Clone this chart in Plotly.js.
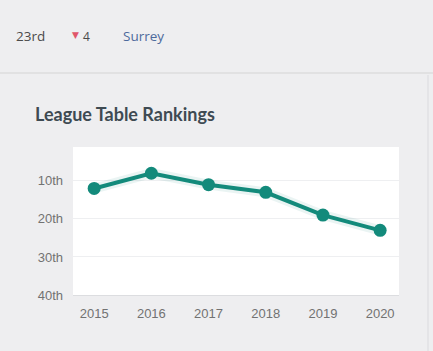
<!DOCTYPE html>
<html>
<head>
<meta charset="utf-8">
<script src="https://cdn.plot.ly/plotly-3.0.1.min.js"></script>
<style>
html,body{margin:0;padding:0;background:#eeeef0;}
#chart{width:433px;height:351px;}
</style>
</head>
<body>
<div id="chart"></div>
<script>
const years = [2015, 2016, 2017, 2018, 2019, 2020];
const ranks = [12, 8, 11, 13, 19, 23];
const rankTickVals = [10, 20, 30, 40];
const rankTickText = ['10th', '20th', '30th', '40th'];
const chartTitle = 'League Table Rankings';
const currentRank = '23rd';
const rankChange = '4';
const county = 'Surrey';

const teal = '#138a7b';

const glow = {
  x: years, y: ranks, type: 'scatter', mode: 'lines',
  line: {color: 'rgba(19,138,123,0.09)', width: 10},
  hoverinfo: 'skip', showlegend: false
};
const main = {
  x: years, y: ranks, type: 'scatter', mode: 'lines+markers',
  line: {color: teal, width: 4},
  marker: {color: teal, size: 13},
  showlegend: false
};

const layout = {
  width: 433, height: 351,
  paper_bgcolor: '#eeeef0',
  plot_bgcolor: '#ffffff',
  margin: {l: 73, r: 34, t: 147, b: 56},
  showlegend: false,
  xaxis: {
    range: [2014.63, 2020.33],
    tickvals: years, ticktext: years.map(String),
    showgrid: false, zeroline: false,
    showline: true, linecolor: '#dcdde0', linewidth: 1,
    ticks: '', ticklabelstandoff: 6,
    tickfont: {family: 'Liberation Sans, Arial, sans-serif', size: 13, color: '#727272'},
    fixedrange: true
  },
  yaxis: {
    range: [40, 1.1],
    tickvals: rankTickVals, ticktext: rankTickText,
    showgrid: true, gridcolor: '#eeeff1', gridwidth: 1,
    zeroline: false, showline: false,
    ticks: '', ticklabelstandoff: 9,
    tickfont: {family: 'Liberation Sans, Arial, sans-serif', size: 13, color: '#727272'},
    fixedrange: true
  },
  shapes: [
    {type: 'line', xref: 'paper', yref: 'paper',
     x0: -73/326, x1: (433-73)/326, y0: (351-56-73)/148, y1: (351-56-73)/148,
     line: {color: '#dcdcde', width: 1.5}},
    {type: 'line', xref: 'paper', yref: 'paper',
     x0: (428-73)/326, x1: (428-73)/326, y0: -56/148, y1: (351-56-75)/148,
     line: {color: '#e4e4e7', width: 2}}
  ],
  annotations: [
    {text: '<b>' + chartTitle + '</b>', xref: 'paper', yref: 'paper',
     x: (33-73)/326, y: (351-56-114)/148, xanchor: 'left', yanchor: 'middle',
     showarrow: false, font: {family: 'Lato, sans-serif', size: 18, color: '#3e4a52'}},
    {text: currentRank, xref: 'paper', yref: 'paper',
     x: (14-73)/326, y: (351-56-36)/148, xanchor: 'left', yanchor: 'middle',
     showarrow: false, font: {family: 'Open Sans, sans-serif', size: 13.5, color: '#4a4a4a'}},
    {text: '\u25BC', xref: 'paper', yref: 'paper',
     x: (70-73)/326, y: (351-56-35)/148, xanchor: 'left', yanchor: 'middle',
     showarrow: false, font: {family: 'DejaVu Sans, sans-serif', size: 9, color: '#e0566a'}},
    {text: rankChange, xref: 'paper', yref: 'paper',
     x: (81-73)/326, y: (351-56-36)/148, xanchor: 'left', yanchor: 'middle',
     showarrow: false, font: {family: 'Open Sans, sans-serif', size: 12, color: '#4a4a4a'}},
    {text: county, xref: 'paper', yref: 'paper',
     x: (121-73)/326, y: (351-56-36)/148, xanchor: 'left', yanchor: 'middle',
     showarrow: false, font: {family: 'Open Sans, sans-serif', size: 13.5, color: '#4d6a9c'}}
  ]
};

Plotly.newPlot('chart', [glow, main], layout, {displayModeBar: false, staticPlot: true});
</script>
</body>
</html>
